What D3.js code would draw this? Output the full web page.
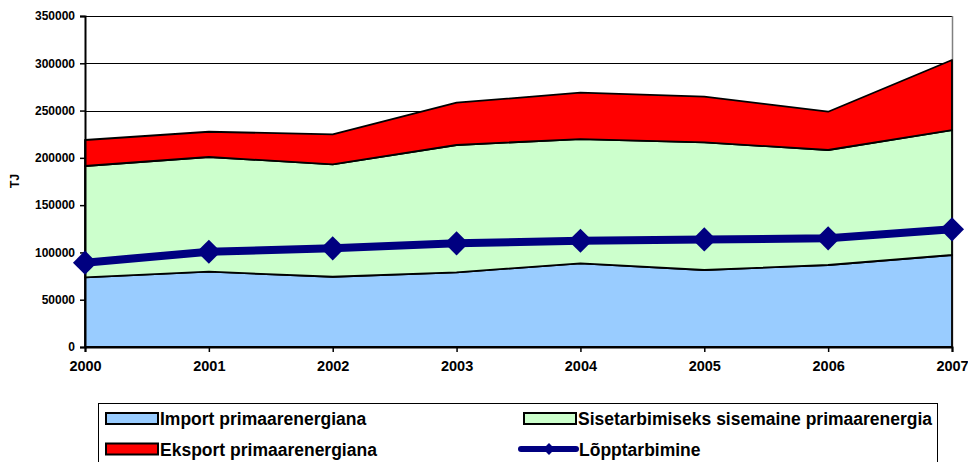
<!DOCTYPE html>
<html>
<head>
<meta charset="utf-8">
<script src="https://cdn.jsdelivr.net/npm/d3@7"></script>
<style>
    body { margin: 0; background: #fff; }
    text { font-family: Arial, "Liberation Sans", sans-serif; font-weight: bold; }
</style>
</head>
<body>
<svg id="chart"></svg>
<script>
// values, TJ
var years = [2000, 2001, 2002, 2003, 2004, 2005, 2006, 2007];
var importValues = [73700, 79600, 74300, 79000, 88500, 81400, 86700, 97300];
var domesticValues = [117700, 121300, 118900, 134600, 131400, 135000, 121600, 132100];
var exportValues = [27500, 26700, 31700, 44700, 49000, 48300, 40500, 74100];
var finalValues = [89200, 100800, 104300, 109600, 112400, 113800, 114900, 124400];
var yTicks = [0, 50000, 100000, 150000, 200000, 250000, 300000, 350000];

var seriesNames = ["Import primaarenergiana", "Sisetarbimiseks sisemaine primaarenergia", "Eksport primaarenergiana"];
var lineName = "Lõpptarbimine";

var width = 968, height = 462;
var margin = {left: 85, right: 16, top: 16, bottom: 115};
var plotW = width - margin.left - margin.right;
var plotH = height - margin.top - margin.bottom;

var svg = d3.select("#chart").attr("width", width).attr("height", height);

var x = d3.scalePoint().domain(years).range([0, plotW]);
var y = d3.scaleLinear().domain([0, 350000]).range([plotH, 0]);

var rows = years.map(function (yr, i) {
    return {year: yr, imp: importValues[i], dom: domesticValues[i], exp: exportValues[i]};
});
var stack = d3.stack().keys(["imp", "dom", "exp"]);
var layers = stack(rows);
var colors = ["#99ccff", "#ccffcc", "#ff0000"];

var chart = svg.append("g")
    .attr("transform", "translate(" + margin.left + "," + margin.top + ")");

// gridlines
chart.append("g")
    .selectAll("line")
    .data(yTicks.slice(1))
    .enter().append("line")
    .attr("x1", 0).attr("x2", plotW)
    .attr("y1", function (d) { return Math.round(y(d)) + 0.5; })
    .attr("y2", function (d) { return Math.round(y(d)) + 0.5; })
    .attr("stroke", "#000").attr("stroke-width", 1);

chart.append("line")
    .attr("x1", plotW + 0.5).attr("x2", plotW + 0.5)
    .attr("y1", 0).attr("y2", plotH)
    .attr("stroke", "#808080").attr("stroke-width", 1.5);

var area = d3.area()
    .x(function (d) { return x(d.data.year); })
    .y0(function (d) { return y(d[0]); })
    .y1(function (d) { return y(d[1]); });

chart.selectAll(".layer")
    .data(layers)
    .enter().append("path")
    .attr("class", "layer")
    .attr("d", area)
    .attr("fill", function (d, i) { return colors[i]; })
    .attr("stroke", "#000")
    .attr("stroke-width", 1.8)
    .attr("stroke-linejoin", "round");

// axes
var yAxis = d3.axisLeft(y).tickValues(yTicks).tickSize(5).tickPadding(5)
    .tickFormat(d3.format("d"));
var gy = chart.append("g").call(yAxis);
gy.select(".domain").attr("stroke", "#000").attr("stroke-width", 2);
gy.selectAll(".tick line").attr("stroke", "#000").attr("stroke-width", 1.5);
gy.selectAll("text").attr("font-size", "12px").attr("fill", "#000");

var xAxis = d3.axisBottom(x).tickSize(5).tickPadding(9).tickFormat(d3.format("d"));
var gx = chart.append("g").attr("transform", "translate(0," + plotH + ")").call(xAxis);
gx.select(".domain").attr("stroke", "#000").attr("stroke-width", 2);
gx.selectAll(".tick line").attr("stroke", "#000").attr("stroke-width", 1.5);
gx.selectAll("text").attr("font-size", "14.5px").attr("fill", "#000");

// final consumption line
var line = d3.line()
    .x(function (d, i) { return x(years[i]); })
    .y(function (d) { return y(d); });

chart.append("path")
    .datum(finalValues)
    .attr("d", line)
    .attr("fill", "none")
    .attr("stroke", "#000080")
    .attr("stroke-width", 8);

var diamond = d3.symbol().type(d3.symbolSquare).size(290);
chart.selectAll(".marker")
    .data(finalValues)
    .enter().append("path")
    .attr("class", "marker")
    .attr("d", diamond)
    .attr("transform", function (d, i) {
        return "translate(" + x(years[i]) + "," + y(d) + ") rotate(45)";
    })
    .attr("fill", "#000080");

// y title
svg.append("text")
    .attr("transform", "translate(19,181) rotate(-90)")
    .attr("text-anchor", "middle")
    .attr("font-size", "12.5px")
    .text("TJ");

// legend
var legend = svg.append("g");
legend.append("rect")
    .attr("x", 98.5).attr("y", 403.5)
    .attr("width", 839).attr("height", 70)
    .attr("fill", "#fff").attr("stroke", "#000").attr("stroke-width", 1);

var legendItems = [
    {name: seriesNames[0], color: colors[0], px: 106, py: 418.5},
    {name: seriesNames[1], color: colors[1], px: 524, py: 418.5},
    {name: seriesNames[2], color: colors[2], px: 106, py: 449},
    {name: lineName, color: null, px: 521, py: 449}
];

legendItems.forEach(function (it) {
    if (it.color) {
        legend.append("rect")
            .attr("x", it.px).attr("y", it.py - 5.5)
            .attr("width", 52).attr("height", 11)
            .attr("fill", it.color).attr("stroke", "#000").attr("stroke-width", 2);
    } else {
        legend.append("line")
            .attr("x1", it.px).attr("x2", it.px + 55)
            .attr("y1", it.py).attr("y2", it.py)
            .attr("stroke", "#000080").attr("stroke-width", 6)
            .attr("stroke-linecap", "round");
        legend.append("path")
            .attr("d", d3.symbol().type(d3.symbolSquare).size(70))
            .attr("transform", "translate(" + (it.px + 28) + "," + it.py + ") rotate(45)")
            .attr("fill", "#000080");
    }
    legend.append("text")
        .attr("x", (it.color ? it.px + 54 : it.px + 58)).attr("y", it.py + 6.5)
        .attr("font-size", "17.5px")
        .text(it.name);
});
</script>
</body>
</html>
